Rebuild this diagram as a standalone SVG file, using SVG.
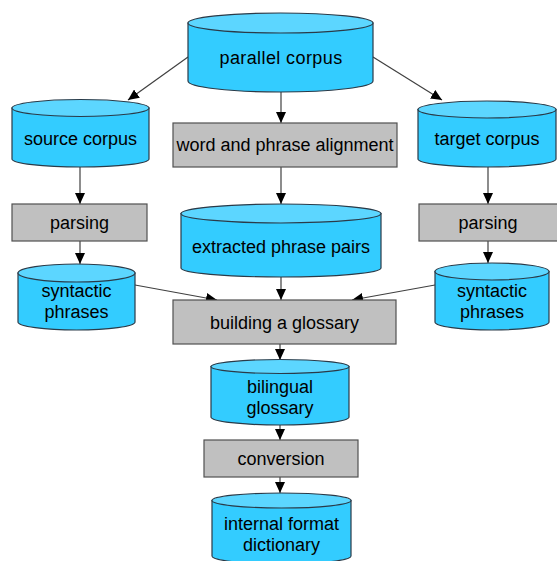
<svg xmlns="http://www.w3.org/2000/svg" width="557" height="561" viewBox="0 0 557 561">
<defs>
<marker id="arr" markerUnits="userSpaceOnUse" markerWidth="12" markerHeight="10" refX="11" refY="5" orient="auto">
<path d="M0,0 L11,5 L0,10 Z" fill="#000"/>
</marker>
<style>
.cyl{fill:#33ccff;stroke:#2a3a48;stroke-width:1.2}
.top{fill:#5cd6ff;stroke:#2a3a48;stroke-width:1.2}
.box{fill:#c0c0c0;stroke:#505050;stroke-width:1.2}
.t{font-family:"Liberation Sans",Arial,sans-serif;font-size:18px;fill:#000;text-anchor:middle}
.c line{stroke:#404040;stroke-width:1.2;marker-end:url(#arr)}
</style>
</defs>
<rect width="557" height="561" fill="#fff"/>
<g class="c" id="connectors">
<line x1="188" y1="57" x2="128" y2="100"/>
<line x1="281" y1="92" x2="281" y2="123"/>
<line x1="373" y1="57" x2="442" y2="100"/>
<line x1="80" y1="167" x2="80" y2="204"/>
<line x1="80" y1="241" x2="80" y2="264"/>
<line x1="281" y1="167" x2="281" y2="204"/>
<line x1="488" y1="167" x2="488" y2="204"/>
<line x1="488" y1="241" x2="488" y2="263"/>
<line x1="281" y1="277" x2="281" y2="300"/>
<line x1="135" y1="285" x2="217" y2="300"/>
<line x1="435" y1="285" x2="352" y2="300"/>
<line x1="280" y1="344" x2="280" y2="360"/>
<line x1="280" y1="425" x2="280" y2="440"/>
<line x1="280" y1="477" x2="280" y2="493"/>
</g>
<g id="parallel">
<path class="cyl" d="M188,23 V81 A92.5,11 0 0 0 373,81 V23 Z"/>
<ellipse class="top" cx="280.5" cy="23" rx="92.5" ry="10"/>
<text class="t" x="281" y="64" letter-spacing="0.4">parallel corpus</text>
</g>
<g id="source">
<path class="cyl" d="M12,108 V159 A68.5,8 0 0 0 149,159 V108 Z"/>
<ellipse class="top" cx="80.5" cy="108" rx="68.5" ry="8.5"/>
<text class="t" x="80.5" y="145">source corpus</text>
</g>
<g id="target">
<path class="cyl" d="M418,109.5 V159 A69,8 0 0 0 556,159 V109.5 Z"/>
<ellipse class="top" cx="487" cy="109.5" rx="69" ry="8.5"/>
<text class="t" x="487" y="145">target corpus</text>
</g>
<g id="align">
<rect class="box" x="173" y="123" width="224" height="44"/>
<text class="t" x="285" y="151">word and phrase alignment</text>
</g>
<g id="parsingL">
<rect class="box" x="12" y="204" width="135" height="37"/>
<text class="t" x="79.5" y="229">parsing</text>
</g>
<g id="parsingR">
<rect class="box" x="419" y="204" width="140" height="37"/>
<text class="t" x="488" y="229">parsing</text>
</g>
<g id="extracted">
<path class="cyl" d="M181,213.5 V268 A100,9 0 0 0 381,268 V213.5 Z"/>
<ellipse class="top" cx="281" cy="213.5" rx="100" ry="9.5"/>
<text class="t" x="281" y="253">extracted phrase pairs</text>
</g>
<g id="syntacticL">
<path class="cyl" d="M18,273 V322 A58.5,8 0 0 0 135,322 V273 Z"/>
<ellipse class="top" cx="76.5" cy="273" rx="58.5" ry="9"/>
<text class="t" x="76.5" y="297">syntactic</text>
<text class="t" x="76.5" y="318">phrases</text>
</g>
<g id="syntacticR">
<path class="cyl" d="M435,271.5 V322 A57,8 0 0 0 549,322 V271.5 Z"/>
<ellipse class="top" cx="492" cy="271.5" rx="57" ry="8.5"/>
<text class="t" x="492" y="297">syntactic</text>
<text class="t" x="492" y="318">phrases</text>
</g>
<g id="building">
<rect class="box" x="173" y="300" width="223" height="44"/>
<text class="t" x="284.5" y="329">building a glossary</text>
</g>
<g id="bilingual">
<path class="cyl" d="M211,366.5 V417 A69,8 0 0 0 349,417 V366.5 Z"/>
<ellipse class="top" cx="280" cy="366.5" rx="69" ry="7"/>
<text class="t" x="280" y="393">bilingual</text>
<text class="t" x="280" y="414">glossary</text>
</g>
<g id="conversion">
<rect class="box" x="204" y="440" width="154" height="37"/>
<text class="t" x="281" y="465">conversion</text>
</g>
<g id="internal">
<path class="cyl" d="M212,500.5 V556 A69.5,8 0 0 0 351,556 V500.5 Z"/>
<ellipse class="top" cx="281.5" cy="500.5" rx="69.5" ry="7.5"/>
<text class="t" x="281.5" y="530">internal format</text>
<text class="t" x="281.5" y="551">dictionary</text>
</g>
</svg>
